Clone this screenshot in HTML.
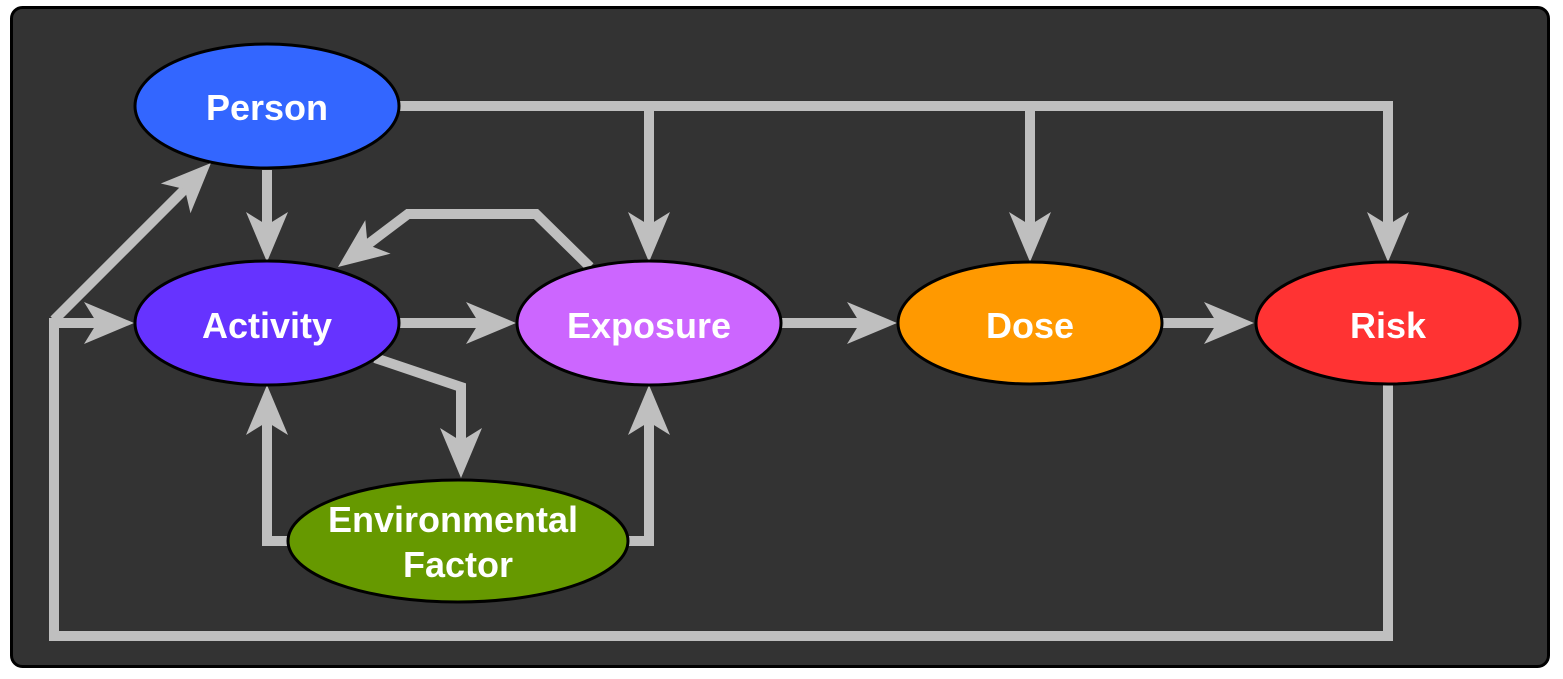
<!DOCTYPE html>
<html><head><meta charset="utf-8"><style>
html,body{margin:0;padding:0;background:#fff;}
svg{display:block;}
text{font-family:"Liberation Sans",Arial,sans-serif;font-weight:bold;fill:#fff;font-size:36px;text-anchor:middle;}
</style></head><body>
<svg width="1563" height="679" viewBox="0 0 1563 679" xmlns="http://www.w3.org/2000/svg">
<defs>
<polygon id="h" points="0,0 -50,-21 -37,0 -50,21" fill="#bfbfbf"/>
</defs>
<rect x="11.5" y="7.5" width="1537" height="659" rx="11" fill="#333" stroke="#000" stroke-width="3"/>
<g fill="none" stroke="#bfbfbf" stroke-width="10" stroke-linejoin="miter">
<path d="M400,106 H1388 V226"/>
<path d="M649,106 V226"/>
<path d="M1030,106 V226"/>
<path d="M267,170 V226"/>
<path d="M1388,385 V636 H54 V323 H98"/>
<path d="M54,320 L185,189"/>
<path d="M400,323 H480"/>
<path d="M781,323 H861"/>
<path d="M1162,323 H1218"/>
<path d="M590,267 L536,214 H408 L367,245"/>
<path d="M375,358 L461,387 V442"/>
<path d="M290,541 H267 V421"/>
<path d="M628,541 H649 V421"/>
</g>
<use href="#h" transform="translate(1388,262) rotate(90)"/>
<use href="#h" transform="translate(649,262) rotate(90)"/>
<use href="#h" transform="translate(1030,262) rotate(90)"/>
<use href="#h" transform="translate(267,262) rotate(90)"/>
<use href="#h" transform="translate(134,323)"/>
<use href="#h" transform="translate(516,323)"/>
<use href="#h" transform="translate(897,323)"/>
<use href="#h" transform="translate(1254,323)"/>
<use href="#h" transform="translate(211,163) rotate(-45)"/>
<use href="#h" transform="translate(338,267) rotate(143)"/>
<use href="#h" transform="translate(461,478) rotate(90)"/>
<use href="#h" transform="translate(267,385) rotate(-90)"/>
<use href="#h" transform="translate(649,385) rotate(-90)"/>
<g stroke="#000" stroke-width="3">
<ellipse cx="267" cy="106" rx="132" ry="62" fill="#3366ff"/>
<ellipse cx="267" cy="323" rx="132" ry="62" fill="#6633ff"/>
<ellipse cx="649" cy="323" rx="132" ry="62" fill="#cc66ff"/>
<ellipse cx="1030" cy="323" rx="132" ry="61" fill="#ff9900"/>
<ellipse cx="1388" cy="323" rx="132" ry="61" fill="#ff3333"/>
<ellipse cx="458" cy="541" rx="170" ry="61" fill="#669900"/>
</g>
<text x="267" y="120">Person</text>
<text x="267" y="338">Activity</text>
<text x="649" y="338">Exposure</text>
<text x="1030" y="338">Dose</text>
<text x="1388" y="338">Risk</text>
<text x="453" y="532">Environmental</text>
<text x="458" y="577">Factor</text>
</svg>
</body></html>
